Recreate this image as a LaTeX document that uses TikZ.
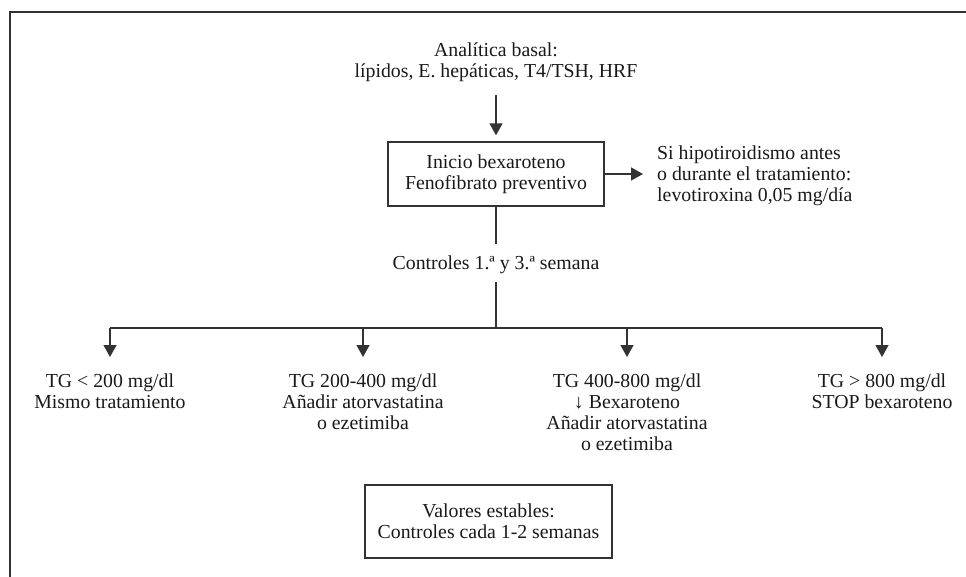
\documentclass[tikz,border=0pt]{standalone}
\usepackage{fontspec}
\setmainfont{Liberation Serif}
\usetikzlibrary{arrows.meta}
\begin{document}
\begin{tikzpicture}[x=1pt,y=-1pt,
  txt/.style={align=center, font=\fontsize{19.8}{21}\selectfont, text=black!90, inner sep=0pt},
  boxed/.style={txt, draw=black!80, line width=1.3pt},
  conn/.style={draw=black!80, line width=1.3pt},
  arr/.style={conn, -{Triangle[length=12pt,width=13pt]}},
  frame/.style={draw=black!80, line width=1.6pt}]
\useasboundingbox (0,0) rectangle (966,577);
\draw[frame] (10,577) -- (10,12) -- (966,12);
\node[txt] (basal) at (496,62) {Analítica basal:\\lípidos, E. hepáticas, T4/TSH, HRF};
\node[boxed, minimum width=216pt, minimum height=64pt] (inicio) at (496,174) {Inicio bexaroteno\\Fenofibrato preventivo};
\node[txt, align=left, anchor=west] (hipo) at (657,176) {Si hipotiroidismo antes\\o durante el tratamiento:\\levotiroxina 0,05 mg/día};
\node[txt] (ctrl) at (496,265) {Controles 1.ª y 3.ª semana};
\coordinate (hub) at (496,328);
\coordinate (bl) at (110,328);
\coordinate (br) at (882,328);
\node[txt, anchor=north] (t1) at (110,374) {TG < 200 mg/dl\\Mismo tratamiento};
\node[txt, anchor=north] (t2) at (363,374) {TG 200-400 mg/dl\\Añadir atorvastatina\\o ezetimiba};
\node[txt, anchor=north] (t3) at (627,374) {TG 400-800 mg/dl\\↓ Bexaroteno\\Añadir atorvastatina\\o ezetimiba};
\node[txt, anchor=north] (t4) at (882,374) {TG > 800 mg/dl\\STOP bexaroteno};
\node[boxed, minimum width=247pt, minimum height=73pt] (estab) at (488.5,521.5) {Valores estables:\\Controles cada 1-2 semanas};
\draw[arr, shorten <=13pt, shorten >=6pt] (basal.south) -- (inicio.north);
\draw[arr, shorten >=14pt] (inicio.east) -- (inicio.east -| hipo.west);
\draw[conn, shorten >=12pt] (inicio.south) -- (ctrl.north);
\draw[conn, shorten <=8pt] (ctrl.south) -- (hub);
\draw[conn] (bl) -- (br);
\draw[arr, shorten >=17pt] (bl) -- (t1.north);
\draw[arr, shorten >=17pt] (t2.north |- hub) -- (t2.north);
\draw[arr, shorten >=17pt] (t3.north |- hub) -- (t3.north);
\draw[arr, shorten >=17pt] (br) -- (t4.north);
\end{tikzpicture}
\end{document}
